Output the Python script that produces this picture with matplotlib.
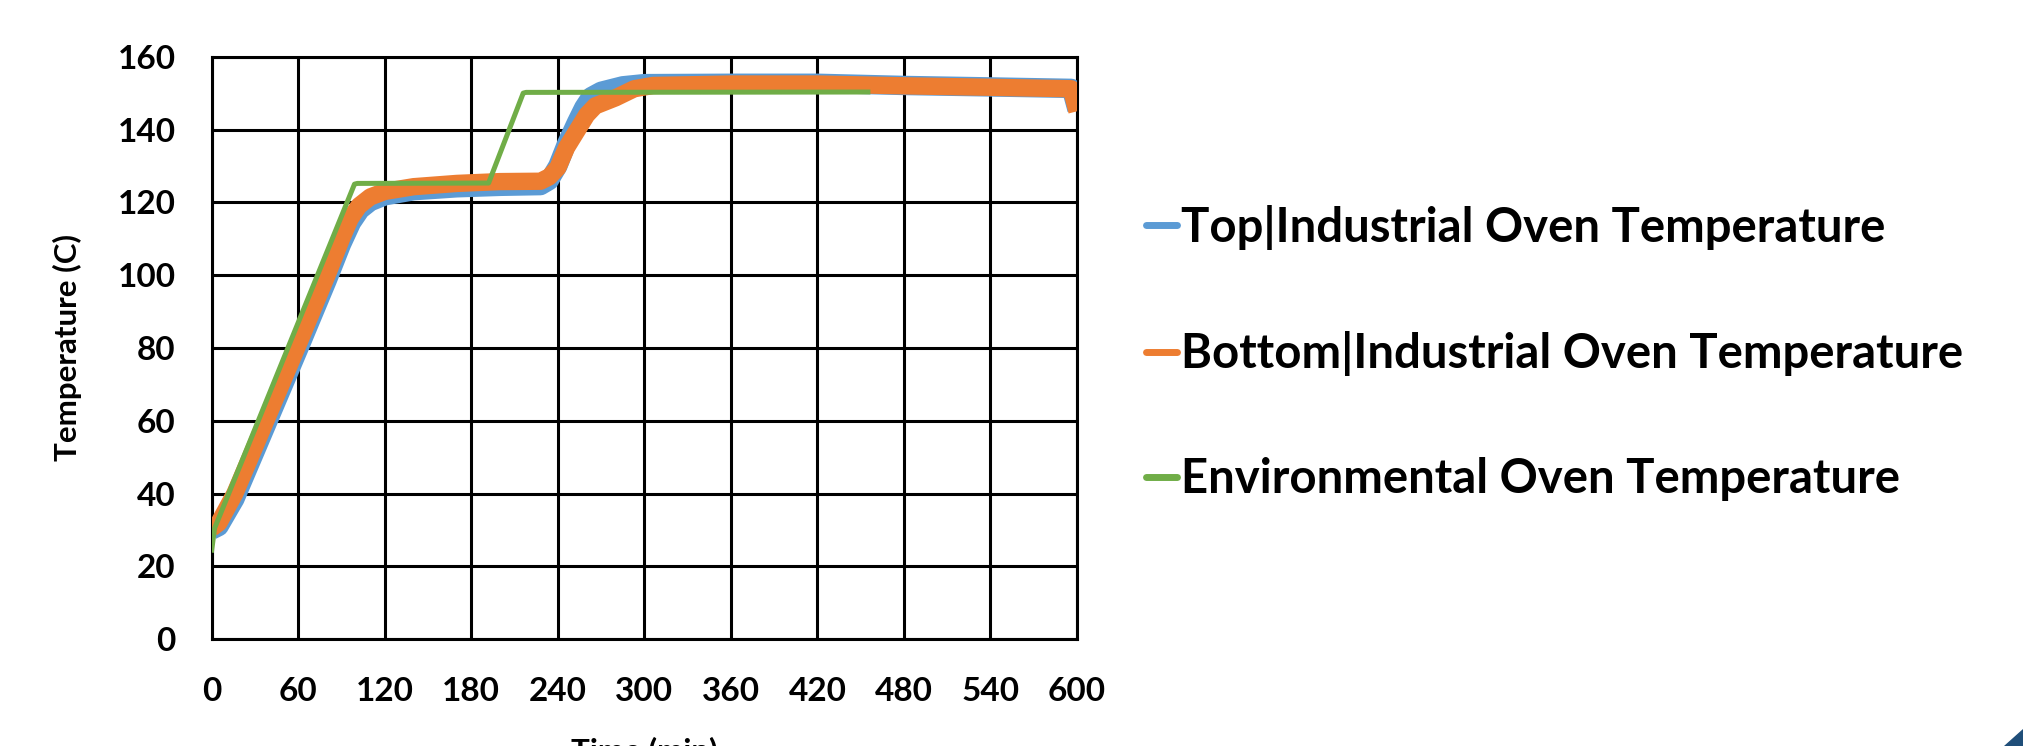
import matplotlib
matplotlib.use('Agg')
import matplotlib.pyplot as plt
from matplotlib.lines import Line2D
from matplotlib.patches import Polygon

plt.rcParams['font.family'] = ['Lato', 'DejaVu Sans']
plt.rcParams['font.weight'] = 'bold'

# oven temperature logs (time in min, temperature in C)
top_time = [0, 5, 16, 30, 60, 80, 90, 97, 103, 110, 120, 140, 170, 200, 228, 234, 240, 246,
            253, 258, 263, 270, 285, 300, 360, 420, 480, 540, 596, 600]
top_temp = [30, 31, 38.5, 51.5, 79.5, 98.5, 108.5, 114.5, 118, 120.2, 121.8, 123.2, 124, 124.4,
            124.6, 126, 130, 136, 142, 146, 149, 150.5, 152, 152.6, 152.7, 152.7, 152.1, 151.7,
            151.3, 145.5]

bottom_time = [0, 5, 16, 30, 60, 80, 90, 96, 102, 110, 120, 140, 170, 200, 228, 234, 240, 246,
               253, 260, 266, 280, 293, 306, 360, 420, 480, 540, 596, 600]
bottom_temp = [30.5, 32, 40, 53, 81, 100, 110, 115.5, 119, 121.5, 123, 124.3, 125.2, 125.7,
               125.8, 127, 129.5, 135, 139.5, 144, 146.5, 148.7, 151.2, 152.1, 152.5, 152.5,
               152.0, 151.6, 151.2, 145]

env_time = [0, 2, 99, 101, 192, 216, 218, 455]
env_temp = [24.5, 30.5, 125, 125.2, 125.3, 150, 150.2, 150.3]

labels = ['Top|Industrial Oven Temperature',
          'Bottom|Industrial Oven Temperature',
          'Environmental Oven Temperature']
colors = ['#5B9BD5', '#ED7D31', '#70AD47']

xticks = list(range(0, 601, 60))
yticks = list(range(0, 161, 20))

fig = plt.figure(figsize=(20.23, 7.46), dpi=100)
ax = fig.add_axes([0.10465, 0.14303, 0.42774, 0.78097])

ax.plot(top_time, top_temp, color=colors[0], lw=14, solid_joinstyle='round', solid_capstyle='butt', zorder=3)
ax.plot(bottom_time, bottom_temp, color=colors[1], lw=12.5, solid_joinstyle='round', solid_capstyle='butt', zorder=4)
ax.plot(env_time, env_temp, color=colors[2], lw=3.6, solid_joinstyle='round', zorder=5)

ax.set_xlim(0, 600)
ax.set_ylim(0, 160)
ax.set_xticks(xticks)
ax.set_yticks(yticks)
ax.set_axisbelow(True)
ax.grid(True, color='black', lw=2.2)
for sp in ax.spines.values():
    sp.set_linewidth(2.2)
    sp.set_color('black')
ax.tick_params(length=0, labelsize=24, pad=26)
ax.tick_params(axis='x', pad=27)

ax.set_ylabel('Temperature (C)', fontsize=22.5, fontweight='bold',
              ha='center', va='center', rotation_mode='default')
ax.yaxis.set_label_coords(-0.1672, 0.5)
ax.set_xlabel('Time (min)', fontsize=22.5, fontweight='bold', va='top')
ax.xaxis.set_label_coords(0.5, -0.167)

handles = [Line2D([], [], color=c, lw=5, solid_capstyle='round') for c in colors]
fig.legend(handles, labels, loc='center left', bbox_to_anchor=(0.5665, 0.5265),
           frameon=False, borderpad=0, borderaxespad=0, handlelength=0.65,
           handletextpad=0.1, labelspacing=1.72,
           prop={'family': 'Lato', 'weight': 'bold', 'size': 34})

# corner accent
fig.patches.append(Polygon([[0.9906, 0], [1, 0], [1, 0.0228]], closed=True,
                           transform=fig.transFigure, color='#1F4E79', figure=fig))

fig.savefig('out.png', dpi=100)
